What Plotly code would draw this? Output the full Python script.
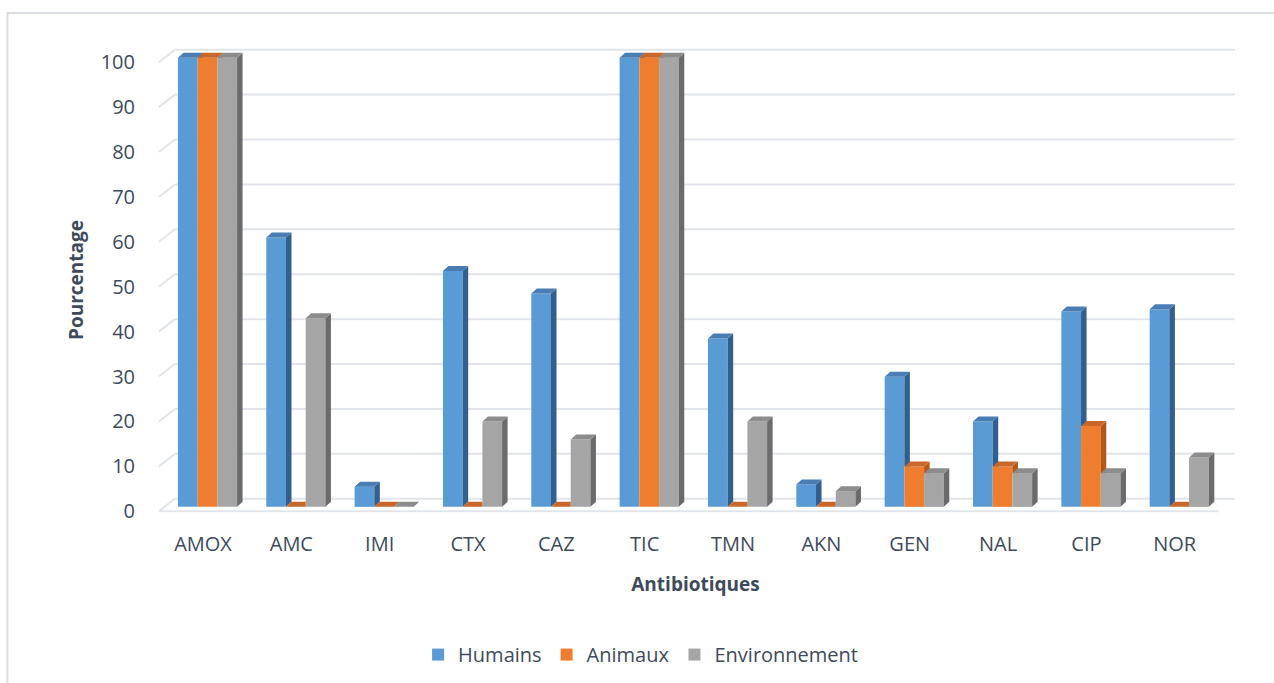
import plotly.graph_objects as go

# ---- data -------------------------------------------------------------
categories = ["AMOX", "AMC", "IMI", "CTX", "CAZ", "TIC",
              "TMN", "AKN", "GEN", "NAL", "CIP", "NOR"]
humains = [100, 60, 4.5, 52.5, 47.5, 100, 37.5, 5, 29, 19, 43.5, 44]
animaux = [100, 0, 0, 0, 0, 100, 0, 0, 9, 9, 18, 0]
environnement = [100, 42, 0, 19, 15, 100, 19, 3.5, 7.5, 7.5, 7.5, 11]
y_ticks = [0, 10, 20, 30, 40, 50, 60, 70, 80, 90, 100]

series = [
    ("Humains", humains, "#5B9BD5", "#335F8E", "#4A7DB4"),
    ("Animaux", animaux, "#EE7D2F", "#B35718", "#C9672A"),
    ("Environnement", environnement, "#A5A5A5", "#6B6B6B", "#8C8C8C"),
]

# ---- geometry of the pseudo-3D frame ----------------------------------
W, H = 1274, 683
PX_CAT = 88.3          # pixels per category step
PX_VAL = 4.49          # pixels per percentage point
X_RANGE = [-0.6, 11.75]
Y_RANGE = [-1.5, 104.5]
LEFT = 203 - (0 - X_RANGE[0]) * PX_CAT
RIGHT = LEFT + (X_RANGE[1] - X_RANGE[0]) * PX_CAT
BOTTOM = 511.7 + (0 - Y_RANGE[0]) * PX_VAL
TOP = BOTTOM - (Y_RANGE[1] - Y_RANGE[0]) * PX_VAL

WALL_DX = 16 / PX_CAT      # depth of floor / walls
WALL_DY = 12.5 / PX_VAL
BAR_W = 19.7 / PX_CAT      # bar width
BAR_DX = 4.5 / PX_CAT      # bars sit slightly behind the front edge
BAR_BASE = 4.4 / PX_VAL
SIDE_DX = 5.5 / PX_CAT     # bar depth
SIDE_DY = 5.0 / PX_VAL

n = len(categories)
idx = list(range(n))


def clip(poly, keep):
    """Sutherland-Hodgman clip of a polygon against one half-plane.
    keep = (axis, value, sign): keeps points with sign*(p[axis]-value) >= 0."""
    axis, val, sign = keep
    out = []
    m = len(poly)
    for i in range(m):
        a, b = poly[i], poly[(i + 1) % m]
        fa = sign * (a[axis] - val)
        fb = sign * (b[axis] - val)
        if fa >= 0:
            out.append(a)
        if (fa >= 0) != (fb >= 0):
            t = fa / (fa - fb)
            out.append((a[0] + t * (b[0] - a[0]), a[1] + t * (b[1] - a[1])))
    return out


def add_poly(xs, ys, poly):
    if len(poly) < 3:
        return
    for p in poly + [poly[0]]:
        xs.append(p[0])
        ys.append(p[1])
    xs.append(None)
    ys.append(None)


fig = go.Figure()

# front faces
for s, (name, vals, front, side, top) in enumerate(series):
    fig.add_trace(go.Bar(
        x=idx, y=vals, base=[BAR_BASE] * n, name=name,
        width=BAR_W, offset=BAR_DX + (s - 1.5) * BAR_W,
        marker=dict(color=front, line=dict(width=0)),
    ))

# side and top faces, clipped where the neighbouring front face hides them
for s, (name, vals, front, side, top) in enumerate(series):
    sx, sy, tx, ty = [], [], [], []
    for k in idx:
        v = vals[k]
        xl = k + BAR_DX + (s - 1.5) * BAR_W
        xr = xl + BAR_W
        y0, y1 = BAR_BASE, BAR_BASE + v
        side_poly = [(xr, y0), (xr + SIDE_DX, y0 + SIDE_DY),
                     (xr + SIDE_DX, y1 + SIDE_DY), (xr, y1)]
        top_poly = [(xl, y1), (xr, y1), (xr + SIDE_DX, y1 + SIDE_DY),
                    (xl + SIDE_DX, y1 + SIDE_DY)]
        if s < len(series) - 1:
            hide = BAR_BASE + series[s + 1][1][k]
            side_poly = clip(side_poly, (1, hide, 1))
            add_poly(sx, sy, side_poly)
            add_poly(tx, ty, clip(top_poly, (0, xr, -1)))
            add_poly(tx, ty, clip(clip(top_poly, (0, xr, 1)), (1, hide, 1)))
        else:
            add_poly(sx, sy, side_poly)
            add_poly(tx, ty, top_poly)
    fig.add_trace(go.Scatter(x=sx, y=sy, mode="lines", fill="toself",
                             fillcolor=side, line=dict(width=0),
                             hoverinfo="skip", showlegend=False))
    fig.add_trace(go.Scatter(x=tx, y=ty, mode="lines", fill="toself",
                             fillcolor=top, line=dict(width=0),
                             hoverinfo="skip", showlegend=False))

# back wall gridlines, left wall edges and floor edge
GRID = "#E1E5EB"
shapes = []
x_lo, x_hi = -0.5, n - 0.5
for g in y_ticks:
    shapes.append(dict(type="line", xref="x", yref="y", layer="below",
                       x0=x_lo + WALL_DX, x1=x_hi + WALL_DX,
                       y0=g + WALL_DY, y1=g + WALL_DY,
                       line=dict(color=GRID, width=2)))
    shapes.append(dict(type="line", xref="x", yref="y", layer="below",
                       x0=x_lo, x1=x_lo + WALL_DX, y0=g, y1=g + WALL_DY,
                       line=dict(color=GRID, width=2)))
shapes.append(dict(type="line", xref="x", yref="y", layer="below",
                   x0=x_lo, x1=x_hi, y0=0, y1=0,
                   line=dict(color=GRID, width=2)))

# outer chart border
pw, ph = RIGHT - LEFT, BOTTOM - TOP
def px_x(px):
    return (px - LEFT) / pw
def px_y(py):
    return (BOTTOM - py) / ph
shapes.append(dict(type="rect", xref="paper", yref="paper", layer="below",
                   x0=px_x(7.5), x1=px_x(1290), y0=px_y(13.5), y1=px_y(700),
                   line=dict(color="#D9DDE3", width=2), fillcolor="rgba(0,0,0,0)"))

TEXT = "#3E4A5C"
fig.update_layout(
    width=W, height=H,
    margin=dict(l=LEFT, r=W - RIGHT, t=TOP, b=H - BOTTOM, autoexpand=False),
    paper_bgcolor="white", plot_bgcolor="white",
    barmode="overlay",
    font=dict(family="Open Sans", size=20, color=TEXT),
    shapes=shapes,
    xaxis=dict(range=X_RANGE, tickmode="array", tickvals=idx,
               ticktext=categories, showgrid=False, zeroline=False,
               showline=False, ticks="", ticklabelstandoff=12,
               title=dict(text="<b>Antibiotiques</b>", standoff=21,
                          font=dict(size=19, color=TEXT))),
    yaxis=dict(range=Y_RANGE, tickmode="array", tickvals=y_ticks,
               showgrid=False, zeroline=False, showline=False, ticks="",
               ticklabelstandoff=14,
               title=dict(text="<b>Pourcentage</b>", standoff=12,
                          font=dict(size=19, color=TEXT))),
    legend=dict(orientation="h", x=px_x(418), xanchor="left",
                y=px_y(655), yanchor="middle",
                font=dict(size=20, color=TEXT), bgcolor="rgba(0,0,0,0)"),
)

fig.write_html("out.html")
